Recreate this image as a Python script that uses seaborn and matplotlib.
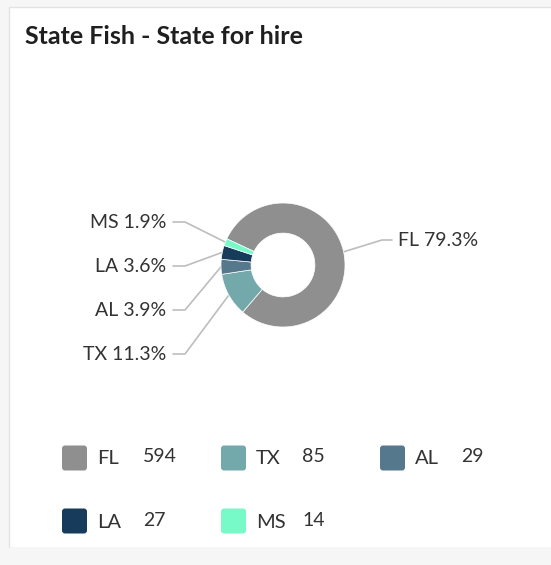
import numpy as np
import matplotlib
matplotlib.use('Agg')
import matplotlib.pyplot as plt
from matplotlib.patches import FancyBboxPatch, Rectangle
import seaborn as sns

# data
states = ['FL', 'TX', 'AL', 'LA', 'MS']
counts = [594, 85, 29, 27, 14]
pct_labels = ['79.3%', '11.3%', '3.9%', '3.6%', '1.9%']
colors = ['#8f8f8f', '#73a9ab', '#56788c', '#173b5b', '#78f9c8']

sns.set_style('white')
plt.rcParams['font.family'] = ['Lato', 'DejaVu Sans']

W, H = 551, 565
fig = plt.figure(figsize=(W / 100, H / 100), dpi=100)
fig.patch.set_facecolor('#f6f6f6')

# full-figure overlay in pixel coords
bg = fig.add_axes([0, 0, 1, 1])
bg.set_xlim(0, W)
bg.set_ylim(H, 0)
bg.axis('off')
bg.add_patch(Rectangle((9, 7), W, 540, facecolor='white', edgecolor='none'))
bg.plot([9, 9, W], [547, 7, 7], color='#e2e2e2', lw=1)
bg.text(25, 37, 'State Fish - State for hire', fontsize=18, fontweight='bold',
        color='#1f1f1f', va='center', ha='left')

# donut
cx, cy, r = 283, 265, 62
ax = fig.add_axes([(cx - r) / W, 1 - (cy + r) / H, 2 * r / W, 2 * r / H])
wedges, _ = ax.pie(counts, colors=colors, startangle=155, counterclock=False,
                   radius=1, wedgeprops=dict(width=0.485, edgecolor='white', linewidth=0.5))
ax.set_xlim(-1, 1)
ax.set_ylim(-1, 1)
ax.set_aspect('auto')

line_c = '#bdbdbd'
left_y = {'MS': 222, 'LA': 266, 'AL': 310, 'TX': 354}
for w, st, pl in zip(wedges, states, pct_labels):
    mid = np.deg2rad((w.theta1 + w.theta2) / 2)
    px, py = cx + r * np.cos(mid), cy - r * np.sin(mid)
    if st == 'FL':
        bg.plot([px, 382, 392], [py, 240, 240], color=line_c, lw=1.2)
        bg.text(398, 240, f'{st} {pl}', fontsize=14, color='#333333', va='center', ha='left')
    else:
        ty = left_y[st]
        bg.plot([173, 185, px], [ty, ty, py], color=line_c, lw=1.2)
        bg.text(166, ty, f'{st} {pl}', fontsize=14, color='#333333', va='center', ha='right')

# legend
for i, (st, n, c) in enumerate(zip(states, counts, colors)):
    col, row = i % 3, i // 3
    x0 = 62 + col * 159
    yc = 458 + row * 63
    bg.add_patch(FancyBboxPatch((x0 + 3, yc - 9.5), 19, 19,
                                boxstyle='round,pad=3', facecolor=c, edgecolor='none'))
    bg.text(x0 + 35, yc + 1, st, fontsize=14.5, color='#333333', va='center', ha='left')
    bg.text(x0 + 81, yc - 1, str(n), fontsize=14, color='#333333', va='center', ha='left')

plt.savefig('out.png', dpi=100, facecolor=fig.get_facecolor())
